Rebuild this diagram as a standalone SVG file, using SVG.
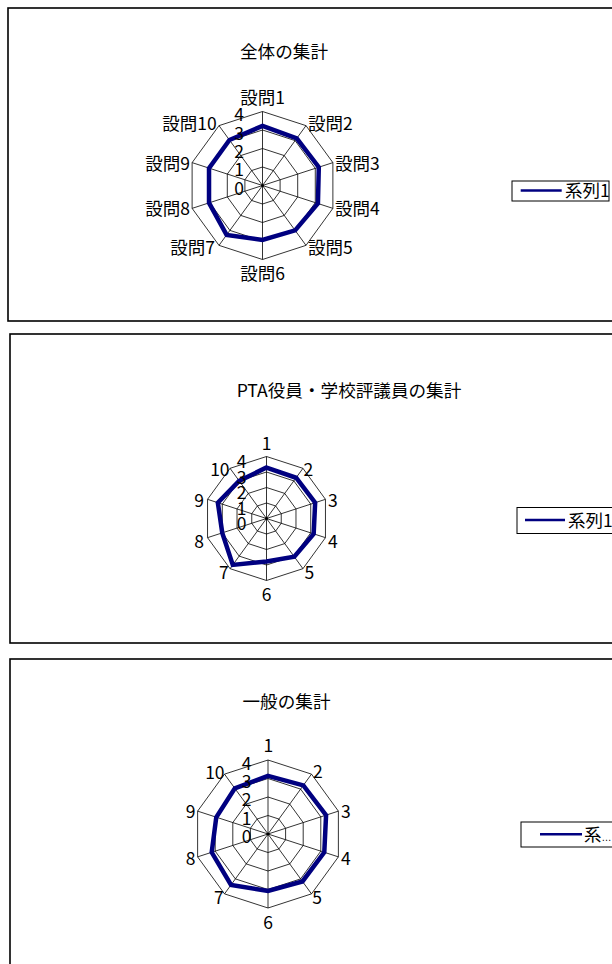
<svg xmlns="http://www.w3.org/2000/svg" xmlns:xlink="http://www.w3.org/1999/xlink" width="612" height="964" viewBox="0 0 612 964">
<style>
.frame{fill:#fff;stroke:#000;stroke-width:1.6}
.grid{fill:none;stroke:#000;stroke-width:0.8;vector-effect:non-scaling-stroke}
.series{fill:none;stroke:#000080;stroke-width:4.5;stroke-linejoin:miter;vector-effect:non-scaling-stroke}
text{font-family:"Noto Sans CJK JP","Liberation Sans",sans-serif;font-size:17.5px;fill:#000}
.t{font-size:17.6px}
.m{text-anchor:middle}.e{text-anchor:end}
.lbox{fill:#fff;stroke:#000;stroke-width:1}
.lline{stroke:#000080;stroke-width:2.5}
</style>
<defs>
<polygon id="dec" class="grid" points="0,-1 0.587785,-0.809017 0.951057,-0.309017 0.951057,0.309017 0.587785,0.809017 0,1 -0.587785,0.809017 -0.951057,0.309017 -0.951057,-0.309017 -0.587785,-0.809017"/>
<g id="web">
<use xlink:href="#dec" transform="scale(1)"/>
<use xlink:href="#dec" transform="scale(2)"/>
<use xlink:href="#dec" transform="scale(3)"/>
<use xlink:href="#dec" transform="scale(4)"/>
<line class="grid" x1="0" y1="0" x2="0" y2="-4"/>
<line class="grid" x1="0" y1="0" x2="2.351141" y2="-3.236068"/>
<line class="grid" x1="0" y1="0" x2="3.804226" y2="-1.236068"/>
<line class="grid" x1="0" y1="0" x2="3.804226" y2="1.236068"/>
<line class="grid" x1="0" y1="0" x2="2.351141" y2="3.236068"/>
<line class="grid" x1="0" y1="0" x2="0" y2="4"/>
<line class="grid" x1="0" y1="0" x2="-2.351141" y2="3.236068"/>
<line class="grid" x1="0" y1="0" x2="-3.804226" y2="1.236068"/>
<line class="grid" x1="0" y1="0" x2="-3.804226" y2="-1.236068"/>
<line class="grid" x1="0" y1="0" x2="-2.351141" y2="-3.236068"/>
</g>
</defs>

<g id="chart1">
<rect class="frame" x="8" y="8" width="700" height="313"/>
<text class="t" x="240" y="58.3">全体の集計</text>
<g transform="translate(262.5,185.5) scale(18.5)">
<use xlink:href="#web"/>
<polygon class="series" points="0,-3.22 1.852,-2.548 3.043,-0.989 2.996,0.973 1.763,2.427 0,2.94 -1.94,2.67 -2.891,0.939 -2.891,-0.939 -1.787,-2.459"/>
</g>
<circle cx="262.5" cy="185.5" r="1.5" fill="#000"/>
<text class="m" x="262.5" y="104">設問1</text>
<text x="308" y="129.5">設問2</text>
<text x="335" y="169.5">設問3</text>
<text x="335" y="214.5">設問4</text>
<text x="308" y="254">設問5</text>
<text class="m" x="262.5" y="279.5">設問6</text>
<text class="e" x="215" y="254">設問7</text>
<text class="e" x="190" y="214.5">設問8</text>
<text class="e" x="190" y="169.5">設問9</text>
<text class="e" x="216.7" y="129.5">設問10</text>
<text class="e" x="244" y="194.7">0</text>
<text class="e" x="244" y="176.4">1</text>
<text class="e" x="244" y="158.1">2</text>
<text class="e" x="244" y="139.7">3</text>
<text class="e" x="244" y="121.4">4</text>
<g id="legend1">
<rect class="lbox" x="512" y="181" width="97" height="20"/>
<line class="lline" x1="520.7" y1="190.5" x2="561.7" y2="190.5"/>
<text x="565" y="197">系列1</text>
</g>
</g>

<g id="chart2">
<rect class="frame" x="10" y="334" width="700" height="309"/>
<text class="t m" x="349" y="397.3">PTA役員・学校評議員の集計</text>
<g transform="translate(266.5,518.5) scale(15.5)">
<use xlink:href="#web"/>
<polygon class="series" points="0,-3.29 1.91,-2.629 3.139,-1.02 3.043,0.989 1.793,2.467 0,2.77 -2.175,2.993 -2.853,0.927 -3.139,-1.02 -1.763,-2.427"/>
</g>
<circle cx="266.5" cy="518.5" r="1.5" fill="#000"/>
<text class="m" x="266.5" y="449.7">1</text>
<text x="303.5" y="475.7">2</text>
<text x="328" y="507">3</text>
<text x="328" y="548">4</text>
<text x="304.5" y="578.7">5</text>
<text class="m" x="266.7" y="601.4">6</text>
<text class="e" x="228.8" y="578.7">7</text>
<text class="e" x="204" y="548">8</text>
<text class="e" x="204" y="507">9</text>
<text class="e" x="229.6" y="475.7">10</text>
<text class="e" x="246.5" y="530.4">0</text>
<text class="e" x="246.5" y="514.9">1</text>
<text class="e" x="246.5" y="499.4">2</text>
<text class="e" x="246.5" y="483.9">3</text>
<text class="e" x="246.5" y="468.4">4</text>
<g id="legend2">
<rect class="lbox" x="517" y="507.5" width="120" height="26"/>
<line class="lline" x1="525" y1="520" x2="565" y2="520"/>
<text x="568" y="526.6">系列1</text>
</g>
</g>

<g id="chart3">
<rect class="frame" x="10" y="659" width="700" height="400"/>
<text class="t m" x="286.5" y="708.3">一般の集計</text>
<g transform="translate(268,834) scale(18.5)">
<use xlink:href="#web"/>
<polygon class="series" points="0,-3.14 1.91,-2.629 3.139,-1.02 3.043,0.989 1.863,2.565 0,3.08 -1.999,2.751 -3.043,0.989 -2.796,-0.908 -1.793,-2.467"/>
</g>
<circle cx="268" cy="834" r="1.5" fill="#000"/>
<text class="m" x="268.3" y="752.4">1</text>
<text x="312.9" y="778">2</text>
<text x="340.9" y="818">3</text>
<text x="340.9" y="864.7">4</text>
<text x="312.2" y="904.4">5</text>
<text class="m" x="268" y="929.4">6</text>
<text class="e" x="223.8" y="904.4">7</text>
<text class="e" x="195.5" y="864.7">8</text>
<text class="e" x="195.5" y="818">9</text>
<text class="e" x="224.6" y="779">10</text>
<text class="e" x="251.5" y="843.1">0</text>
<text class="e" x="251.5" y="824.8">1</text>
<text class="e" x="251.5" y="806.4">2</text>
<text class="e" x="251.5" y="788.1">3</text>
<text class="e" x="251.5" y="769.7">4</text>
<g id="legend3">
<rect class="lbox" x="521" y="822" width="120" height="25"/>
<line class="lline" x1="540" y1="834.3" x2="582" y2="834.3"/>
<text x="584" y="840.8">系<tspan font-family="Liberation Sans" font-size="10">…</tspan></text>
</g>
</g>
</svg>
